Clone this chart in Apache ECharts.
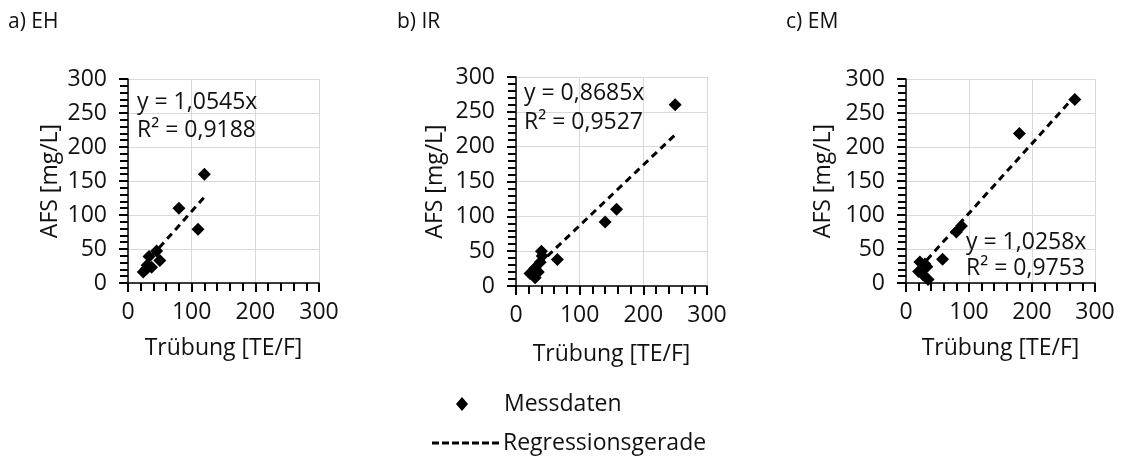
<!DOCTYPE html>
<html>
<head>
<meta charset="utf-8">
<script src="https://cdn.jsdelivr.net/npm/echarts@6/dist/echarts.min.js"></script>
<style>
  html, body { margin: 0; padding: 0; background: #fff; }
  #chart { width: 1122px; height: 460px; }
</style>
</head>
<body>
<div id="chart"></div>
<script>
// Messdaten (Trübung [TE/F], AFS [mg/L])
const ehX = [120, 80, 110, 45, 33, 50, 37, 24, 29, 30]
const ehY = [160, 110, 79, 47, 39, 33, 23, 16, 21, 26]
const irX = [250, 158, 140, 65, 40, 41, 22, 30, 38, 30, 27, 35]
const irY = [260, 110, 92, 38, 50, 43, 18, 26, 34, 12, 22, 20]
const emX = [268, 180, 88, 80, 58, 22, 33, 20, 27, 35, 30]
const emY = [270, 220, 84, 75, 35, 31, 24, 17, 12, 5, 28]

// Regressionsgeraden y = k * x
const slopes = [1.0545, 0.8685, 1.0258]
const r2 = ['0,9188', '0,9527', '0,9753']
const slopeLabels = ['1,0545', '0,8685', '1,0258']
const titles = ['a) EH', 'b) IR', 'c) EM']
const axisTicks = [0, 300, 50, 100]   // min, max, y interval, x interval

const font = '"Open Sans", "Noto Sans", sans-serif'
const txt = '#111'
const fs = 23

const panels = [
  { x: ehX, y: ehY, grid: { left: 128, top: 79, width: 191, height: 204 }, xGap: 54, yGap: 66 },
  { x: irX, y: irY, grid: { left: 516, top: 77, width: 191, height: 209 }, xGap: 57, yGap: 69 },
  { x: emX, y: emY, grid: { left: 906, top: 79, width: 189, height: 204 }, xGap: 54, yGap: 71 }
]

const pairs = (xs, ys) => xs.map((v, i) => [v, ys[i]])

const makeAxis = (i) => ({
  type: 'value',
  gridIndex: i,
  min: axisTicks[0],
  max: axisTicks[1],
  nameLocation: 'middle',
  nameTextStyle: { fontFamily: font, fontSize: fs, color: txt },
  axisLine: { show: true, onZero: false, lineStyle: { color: '#000', width: 1.5 } },
  axisTick: { show: true, inside: false, length: 9, lineStyle: { color: '#000', width: 2, opacity: 1 } },
  minorTick: { show: true, splitNumber: 5, length: 8, lineStyle: { color: '#000', width: 2, opacity: 1 } },
  axisLabel: { fontFamily: font, fontSize: fs, color: txt, margin: 18 },
  splitLine: { show: true, lineStyle: { color: '#d9d9d9', width: 1 } }
})

const grids = panels.map(p => p.grid)
const xAxes = panels.map((p, i) => ({
  ...makeAxis(i),
  interval: axisTicks[3],
  name: 'Trübung [TE/F]',
  nameGap: p.xGap
}))
const yAxes = panels.map((p, i) => {
  const a = makeAxis(i)
  return {
    ...a,
    interval: axisTicks[2],
    name: 'AFS [mg/L]',
    nameGap: p.yGap,
    axisLabel: { ...a.axisLabel, margin: 21 }
  }
})

const series = []
panels.forEach((p, i) => {
  const lo = Math.min(...p.x)
  const hi = Math.max(...p.x)
  series.push({
    name: 'Regressionsgerade',
    type: 'line',
    xAxisIndex: i,
    yAxisIndex: i,
    showSymbol: false,
    silent: true,
    lineStyle: { color: '#000', width: 3, type: [7, 5] },
    data: [[lo, slopes[i] * lo], [hi, slopes[i] * hi]],
    z: 2
  })
  series.push({
    name: 'Messdaten',
    type: 'scatter',
    xAxisIndex: i,
    yAxisIndex: i,
    symbol: 'diamond',
    symbolSize: 13,
    itemStyle: { color: '#000', opacity: 1 },
    data: pairs(p.x, p.y),
    z: 3
  })
})

// Beschriftungen: Titel, Gleichungen, Legende
const eqPos = [
  { x: 137, y1: 102, y2: 130 },
  { x: 524, y1: 93, y2: 122 },
  { x: 966, y1: 242, y2: 268 }
]
const graphic = []
const titleX = [8, 397, 786]
titles.forEach((t, i) => {
  graphic.push({ type: 'text', x: titleX[i], y: 22,
    style: { text: t, fontFamily: font, fontSize: 21, fill: txt, verticalAlign: 'middle' } })
})
eqPos.forEach((e, i) => {
  graphic.push({ type: 'text', x: e.x, y: e.y1,
    style: { text: 'y = ' + slopeLabels[i] + 'x', fontFamily: font, fontSize: fs, fill: txt, verticalAlign: 'middle' }, z: 10 })
  graphic.push({ type: 'text', x: e.x, y: e.y2,
    style: { text: 'R² = ' + r2[i], fontFamily: font, fontSize: fs, fill: txt, verticalAlign: 'middle' }, z: 10 })
})
graphic.push({ type: 'polygon', shape: { points: [[462, 397], [468, 404], [462, 411], [456, 404]] }, style: { fill: '#000' } })
graphic.push({ type: 'text', x: 504, y: 404,
  style: { text: 'Messdaten', fontFamily: font, fontSize: fs, fill: txt, verticalAlign: 'middle' } })
graphic.push({ type: 'line', shape: { x1: 432, y1: 443, x2: 502, y2: 443 },
  style: { stroke: '#000', lineWidth: 3, lineDash: [7, 3] } })
graphic.push({ type: 'text', x: 503, y: 443,
  style: { text: 'Regressionsgerade', fontFamily: font, fontSize: fs, fill: txt, verticalAlign: 'middle' } })

const chart = echarts.init(document.getElementById('chart'))
chart.setOption({
  animation: false,
  backgroundColor: '#fff',
  grid: grids,
  xAxis: xAxes,
  yAxis: yAxes,
  series: series,
  graphic: graphic
})
</script>
</body>
</html>
